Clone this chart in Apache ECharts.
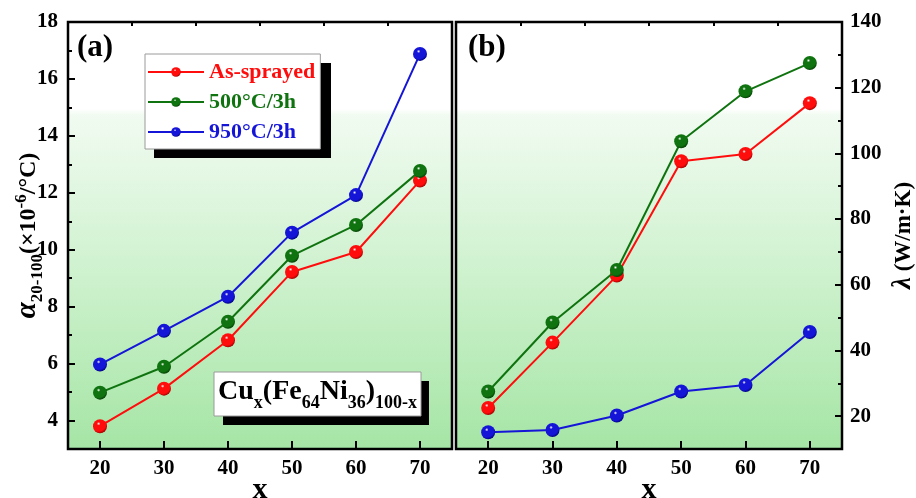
<!DOCTYPE html>
<html>
<head>
<meta charset="utf-8">
<script src="https://cdn.jsdelivr.net/npm/echarts@6/dist/echarts.min.js"></script>
<style>
html,body{margin:0;padding:0;background:#fff;}
#chart{width:916px;height:498px;}
</style>
</head>
<body>
<div id="chart"></div>
<script>
// ---- data ----
const xValues = [20, 30, 40, 50, 60, 70];
const seriesNames = ['As-sprayed', '500°C/3h', '950°C/3h'];
const alphaAsSprayed = [3.8, 5.12, 6.82, 9.22, 9.92, 12.43];
const alpha500 = [4.98, 5.89, 7.47, 9.79, 10.87, 12.77];
const alpha950 = [5.97, 7.15, 8.35, 10.6, 11.92, 16.88];
const lambdaAsSprayed = [22.5, 42.4, 62.8, 97.6, 99.8, 115.3];
const lambda500 = [27.5, 48.5, 64.5, 103.7, 118.9, 127.5];
const lambda950 = [15.1, 15.8, 20.2, 27.5, 29.5, 45.6];
const xTicks = [20, 30, 40, 50, 60, 70];
const xMinorTicks = [25, 35, 45, 55, 65];
const alphaTicks = [4, 6, 8, 10, 12, 14, 16, 18];
const alphaMinorTicks = [5, 7, 9, 11, 13, 15, 17];
const lambdaTicks = [20, 40, 60, 80, 100, 120, 140];
const lambdaMinorTicks = [30, 50, 70, 90, 110, 130];

const colors = ['#ff0d0d', '#0f730f', '#1515d8'];
const darks = ['#a00000', '#043d04', '#000080'];
const FONT = '"Liberation Serif", "Times New Roman", serif';

function sphere(i) {
  return {
    type: 'radial', x: 0.4, y: 0.32, r: 0.7,
    colorStops: [
      { offset: 0, color: '#ffffff' },
      { offset: 0.18, color: colors[i] },
      { offset: 0.75, color: colors[i] },
      { offset: 1, color: darks[i] }
    ]
  };
}
function pairs(ys) { return xValues.map((x, k) => [x, ys[k]]); }

const bg = {
  type: 'linear', x: 0, y: 0, x2: 0, y2: 1,
  colorStops: [
    { offset: 0, color: '#ffffff' },
    { offset: 0.205, color: '#ffffff' },
    { offset: 0.22, color: '#f1fbf1' },
    { offset: 0.6, color: '#cdf1cd' },
    { offset: 1, color: '#a5e5a5' }
  ]
};

const labelStyle = { fontFamily: FONT, fontWeight: 'bold', fontSize: 21, color: '#000' };

function xAxes(g) {
  return [
    {
      type: 'value', gridIndex: g, min: 15, max: 75,
      name: 'x', nameLocation: 'middle', nameGap: 26, nameMoveOverlap: false,
      nameTextStyle: { fontFamily: FONT, fontWeight: 'bold', fontSize: 30, color: '#000' },
      axisLine: { show: false },
      axisTick: { show: true, inside: true, length: 8, lineStyle: { color: '#000', width: 2 }, customValues: xTicks },
      axisLabel: Object.assign({ margin: 9, customValues: xTicks }, labelStyle),
      splitLine: { show: false }
    },
    {
      type: 'value', gridIndex: g, min: 15, max: 75,
      axisLine: { show: false },
      axisTick: { show: true, inside: true, length: 4, lineStyle: { color: '#000', width: 2 }, customValues: xMinorTicks },
      axisLabel: { show: false },
      splitLine: { show: false }
    }
  ];
}

const option = {
  animation: false,
  backgroundColor: '#fff',
  grid: [
    { left: 68, top: 22, width: 384, height: 427, show: true, backgroundColor: bg, borderColor: '#000', borderWidth: 2.5, outerBoundsMode: 'none', containLabel: false },
    { left: 456, top: 22, width: 386, height: 427, show: true, backgroundColor: bg, borderColor: '#000', borderWidth: 2.5, outerBoundsMode: 'none', containLabel: false }
  ],
  xAxis: xAxes(0).concat(xAxes(1)),
  yAxis: [
    {
      type: 'value', gridIndex: 0, min: 3, max: 18, position: 'left',
      name: '{a|α}{s|20-100}{b|(×10}{p|-6}{b|/°C)}',
      nameLocation: 'middle', nameRotate: 90, nameGap: 22, nameMoveOverlap: false,
      nameTextStyle: {
        fontFamily: FONT, color: '#000',
        rich: {
          a: { fontFamily: FONT, fontStyle: 'italic', fontWeight: 'bold', fontSize: 29, color: '#000', verticalAlign: 'bottom', padding: [0, 0, 4, 0] },
          b: { fontFamily: FONT, fontWeight: 'bold', fontSize: 24, color: '#000', verticalAlign: 'bottom', padding: [0, 0, 5, 0] },
          s: { fontFamily: FONT, fontWeight: 'bold', fontSize: 17, color: '#000', verticalAlign: 'bottom', padding: [0, 0, 0, 0] },
          p: { fontFamily: FONT, fontWeight: 'bold', fontSize: 17, color: '#000', verticalAlign: 'bottom', padding: [0, 0, 16, 0] }
        }
      },
      axisLine: { show: false },
      axisTick: { show: true, inside: true, length: 7, lineStyle: { color: '#000', width: 2 }, customValues: alphaTicks },
      axisLabel: Object.assign({ margin: 10, customValues: alphaTicks }, labelStyle),
      splitLine: { show: false }
    },
    {
      type: 'value', gridIndex: 0, min: 3, max: 18, position: 'left',
      axisLine: { show: false },
      axisTick: { show: true, inside: true, length: 4, lineStyle: { color: '#000', width: 2 }, customValues: alphaMinorTicks },
      axisLabel: { show: false },
      splitLine: { show: false }
    },
    {
      type: 'value', gridIndex: 1, min: 10, max: 140, position: 'right',
      name: '{a|λ}{b| (W/m·K)}',
      nameLocation: 'middle', nameRotate: 90, nameGap: 48,
      nameTextStyle: {
        fontFamily: FONT, color: '#000',
        rich: {
          a: { fontFamily: FONT, fontStyle: 'italic', fontWeight: 'bold', fontSize: 27, color: '#000', verticalAlign: 'bottom' },
          b: { fontFamily: FONT, fontWeight: 'bold', fontSize: 23, color: '#000', verticalAlign: 'bottom', padding: [0, 0, 1, 0] }
        }
      },
      axisLine: { show: false },
      axisTick: { show: true, inside: true, length: 7, lineStyle: { color: '#000', width: 2 }, customValues: lambdaTicks },
      axisLabel: Object.assign({ margin: 8, customValues: lambdaTicks }, labelStyle),
      splitLine: { show: false }
    },
    {
      type: 'value', gridIndex: 1, min: 10, max: 140, position: 'right',
      axisLine: { show: false },
      axisTick: { show: true, inside: true, length: 4, lineStyle: { color: '#000', width: 2 }, customValues: lambdaMinorTicks },
      axisLabel: { show: false },
      splitLine: { show: false }
    }
  ],
  legend: {
    left: 145, top: 54, orient: 'vertical', z: 10,
    padding: [7, 5, 6, 2],
    itemGap: 8, itemWidth: 56, itemHeight: 12,
    backgroundColor: '#fff', borderColor: '#9a9a9a', borderWidth: 1,
    selectedMode: false,
    data: seriesNames.map((n, i) => ({
      name: n,
      textStyle: { color: colors[i], fontFamily: FONT, fontWeight: 'bold', fontSize: 22 }
    }))
  },
  graphic: [
    { type: 'rect', z: 5, shape: { x: 154, y: 63, width: 177, height: 95 }, style: { fill: '#000' } },
    { type: 'text', z: 5, left: 77, top: 32, style: { text: '(a)', fontFamily: FONT, fontWeight: 'bold', fontSize: 31, fill: '#000' } },
    { type: 'text', z: 5, left: 468, top: 32, style: { text: '(b)', fontFamily: FONT, fontWeight: 'bold', fontSize: 31, fill: '#000' } },
    { type: 'rect', z: 5, shape: { x: 223, y: 381, width: 206, height: 44 }, style: { fill: '#000' } },
    { type: 'rect', z: 6, shape: { x: 214, y: 372, width: 207, height: 44 }, style: { fill: '#fff', stroke: '#9a9a9a', lineWidth: 1 } },
    {
      type: 'text', z: 7, x: 317.5, y: 395,
      style: {
        text: '{b|Cu}{s|x}{b|(Fe}{s|64}{b|Ni}{s|36}{b|)}{s|100-x}',
        align: 'center', verticalAlign: 'middle',
        rich: {
          b: { fontFamily: FONT, fontWeight: 'bold', fontSize: 28, fill: '#000', verticalAlign: 'bottom', padding: [0, 0, 6, 0] },
          s: { fontFamily: FONT, fontWeight: 'bold', fontSize: 18, fill: '#000', verticalAlign: 'bottom' }
        }
      }
    }
  ],
  series: []
};

const alphaData = [alphaAsSprayed, alpha500, alpha950];
const lambdaData = [lambdaAsSprayed, lambda500, lambda950];
[alphaData, lambdaData].forEach((set, g) => {
  set.forEach((ys, i) => {
    option.series.push({
      type: 'line', name: seriesNames[i],
      xAxisIndex: g * 2, yAxisIndex: g * 2,
      data: pairs(ys),
      symbol: 'circle', symbolSize: 14,
      lineStyle: { color: colors[i], width: 2 },
      itemStyle: { color: sphere(i), borderWidth: 0 },
      z: 3 + i
    });
  });
});

const chart = echarts.init(document.getElementById('chart'), null, { renderer: 'canvas' });
chart.setOption(option);
</script>
</body>
</html>
